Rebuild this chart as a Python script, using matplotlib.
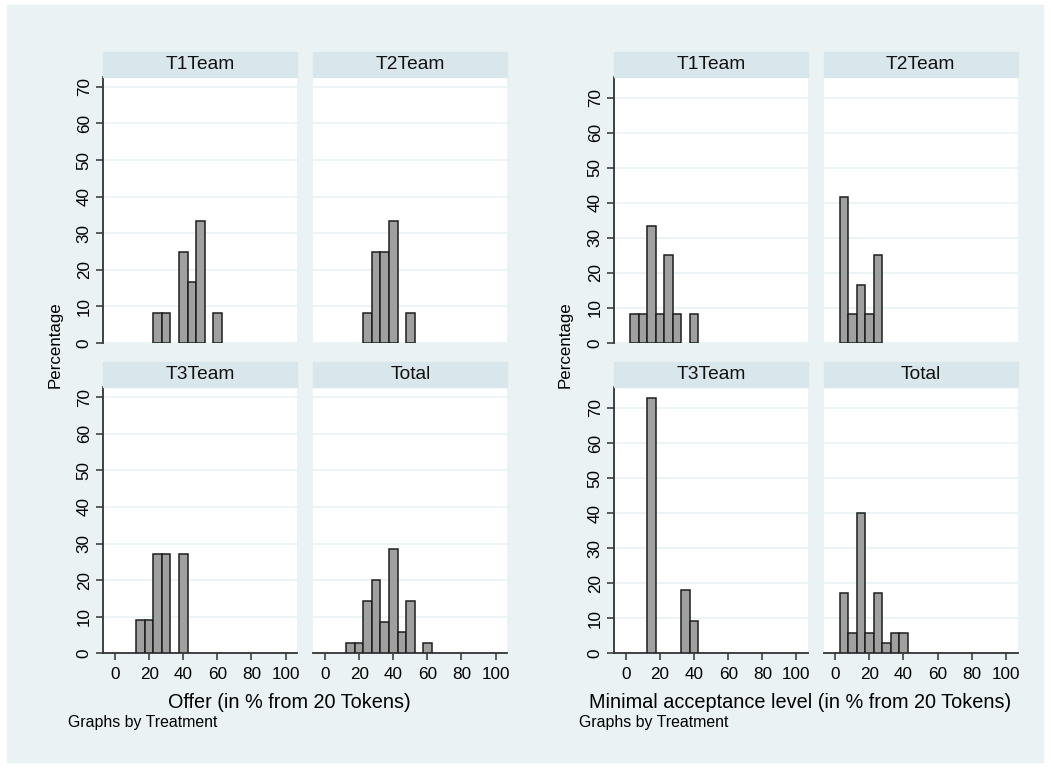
import matplotlib
matplotlib.use('Agg')
import matplotlib.pyplot as plt
from matplotlib.patches import Rectangle

plt.rcParams['font.family'] = ['Liberation Sans', 'DejaVu Sans']

W, H = 1051, 769

# Offer (in % from 20 tokens), one bin = 1 token = 5 %
offer_t1_x = [25, 30, 40, 45, 50, 60]
offer_t1_y = [8.33, 8.33, 25.0, 16.67, 33.33, 8.33]
offer_t2_x = [25, 30, 35, 40, 50]
offer_t2_y = [8.33, 25.0, 25.0, 33.33, 8.33]
offer_t3_x = [15, 20, 25, 30, 40]
offer_t3_y = [9.09, 9.09, 27.27, 27.27, 27.27]
offer_tot_x = [15, 20, 25, 30, 35, 40, 45, 50, 60]
offer_tot_y = [2.86, 2.86, 14.29, 20.0, 8.57, 28.57, 5.71, 14.29, 2.86]

# Minimal acceptance level (in % from 20 tokens)
mal_t1_x = [5, 10, 15, 20, 25, 30, 40]
mal_t1_y = [8.33, 8.33, 33.33, 8.33, 25.0, 8.33, 8.33]
mal_t2_x = [5, 10, 15, 20, 25]
mal_t2_y = [41.67, 8.33, 16.67, 8.33, 25.0]
mal_t3_x = [15, 35, 40]
mal_t3_y = [72.73, 18.18, 9.09]
mal_tot_x = [5, 10, 15, 20, 25, 30, 35, 40]
mal_tot_y = [17.14, 5.71, 40.0, 5.71, 17.14, 2.86, 5.71, 5.71]

titles = ['T1Team', 'T2Team', 'T3Team', 'Total']
xticks = [0, 20, 40, 60, 80, 100]
yticks = [0, 10, 20, 30, 40, 50, 60, 70]

bg = '#EAF2F3'
strip = '#D9E6EB'
bar_fill = '#A0A0A0'
bar_edge = '#1E1E1E'
axcol = '#333333'

fig = plt.figure(figsize=(W / 100, H / 100), dpi=100)
fig.patch.set_facecolor('white')
fig.add_artist(Rectangle((7 / W, 1 - 762 / H), (1043 - 7) / W, (762 - 5) / H,
                         transform=fig.transFigure, color=bg, zorder=0))

PW, PH, SH = 194, 266, 25


def panel(x0, ytop, xs, ys, title, ymax, left, bottom):
    ax = fig.add_axes([x0 / W, 1 - (ytop + PH) / H, PW / W, PH / H])
    ax.set_facecolor('white')
    ax.bar(xs, ys, width=5, color=bar_fill, edgecolor=bar_edge, linewidth=1.1, zorder=3)
    ax.set_xlim(-6.9, 106.9)
    ax.set_ylim(0, ymax)
    ax.set_xticks(xticks)
    ax.set_yticks(yticks)
    ax.yaxis.grid(True, color=bg, linewidth=1.2)
    ax.set_axisbelow(True)
    for s in ['top', 'right']:
        ax.spines[s].set_visible(False)
    ax.spines['left'].set_visible(left)
    ax.spines['bottom'].set_visible(bottom)
    for s in ['left', 'bottom']:
        ax.spines[s].set_color(axcol)
        ax.spines[s].set_linewidth(1.3)
    ax.tick_params(axis='both', direction='out', length=5.3, width=1.1, color=axcol,
                   labelsize=12.3)
    ax.tick_params(axis='y', left=left, labelleft=left, labelrotation=90, pad=3)
    ax.tick_params(axis='x', bottom=bottom, labelbottom=bottom, pad=4.5)
    for lab in ax.get_yticklabels():
        lab.set_verticalalignment('center')
    ax.add_patch(Rectangle((0, 1), 1, SH / PH, transform=ax.transAxes,
                           clip_on=False, color=strip, zorder=5))
    ax.text(0.5, 1 + SH / PH / 2, title, transform=ax.transAxes, ha='center',
            va='center', fontsize=13.8, color='#111111', zorder=6)
    return ax


# left graph: offers
panel(103.3, 77, offer_t1_x, offer_t1_y, titles[0], 72.7, True, False)
panel(313.3, 77, offer_t2_x, offer_t2_y, titles[1], 72.7, False, False)
panel(103.3, 387.3, offer_t3_x, offer_t3_y, titles[2], 72.7, True, True)
panel(313.3, 387.3, offer_tot_x, offer_tot_y, titles[3], 72.7, False, True)

# right graph: minimal acceptance level
panel(614.2, 77, mal_t1_x, mal_t1_y, titles[0], 75.9, True, False)
panel(823.5, 77, mal_t2_x, mal_t2_y, titles[1], 75.9, False, False)
panel(614.2, 387.3, mal_t3_x, mal_t3_y, titles[2], 75.9, True, True)
panel(823.5, 387.3, mal_tot_x, mal_tot_y, titles[3], 75.9, False, True)

fig.text(55 / W, 1 - 345 / H, 'Percentage', rotation=90, ha='center', va='center', fontsize=12.2)
fig.text(565 / W, 1 - 345 / H, 'Percentage', rotation=90, ha='center', va='center', fontsize=12.2)
fig.text(289 / W, 1 - 702 / H, 'Offer (in % from 20 Tokens)', ha='center', va='center', fontsize=14.3)
fig.text(800 / W, 1 - 702 / H, 'Minimal acceptance level (in % from 20 Tokens)', ha='center',
         va='center', fontsize=14.3)
fig.text(68 / W, 1 - 723 / H, 'Graphs by Treatment', ha='left', va='center', fontsize=11.4)
fig.text(579 / W, 1 - 723 / H, 'Graphs by Treatment', ha='left', va='center', fontsize=11.4)

fig.savefig('out.png', dpi=100, facecolor=fig.get_facecolor())
